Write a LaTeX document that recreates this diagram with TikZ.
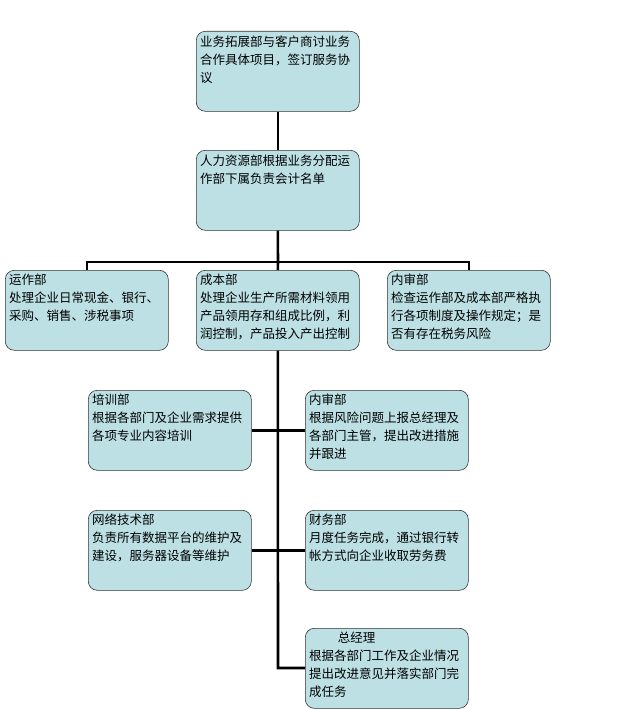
\documentclass[tikz,border=0pt]{standalone}
\usepackage{fontspec}
\setmainfont{Noto Sans CJK SC}
\begin{document}
\begin{tikzpicture}[x=1pt,y=-1pt,
  box/.style={draw=black!80,line width=0.6pt,fill={rgb,255:red,188;green,224;blue,228},rounded corners=9pt,minimum width=163pt,minimum height=80pt,anchor=north west,inner sep=0pt},
  txt/.style={anchor=north west,align=left,inner sep=0pt,font=\fontsize{12.5}{18}\selectfont},
  conn/.style={line width=2.6pt,black}]
\useasboundingbox (0,0) rectangle (623,709);
\node[box] (a) at (196,31) {};
\node[txt] at (200,36) {业务拓展部与客户商讨业务\\合作具体项目，签订服务协\\议};
\node[box] (b) at (196,150) {};
\node[txt] at (200,155) {人力资源部根据业务分配运\\作部下属负责会计名单};
\node[box] (c1) at (5,270) {};
\node[txt] at (9,274) {运作部\\处理企业日常现金、银行、\\采购、销售、涉税事项};
\node[box] (c2) at (196,270) {};
\node[txt] at (200,274) {成本部\\处理企业生产所需材料领用\\产品领用存和组成比例，利\\润控制，产品投入产出控制};
\node[box] (c3) at (387,270) {};
\node[txt] at (391,274) {内审部\\检查运作部及成本部严格执\\行各项制度及操作规定；是\\否有存在税务风险};
\node[box] (d1) at (88,390) {};
\node[txt] at (92,394) {培训部\\根据各部门及企业需求提供\\各项专业内容培训};
\node[box] (d2) at (305,390) {};
\node[txt] at (309,394) {内审部\\根据风险问题上报总经理及\\各部门主管，提出改进措施\\并跟进};
\node[box] (e1) at (88,510) {};
\node[txt] at (92,514) {网络技术部\\负责所有数据平台的维护及\\建设，服务器设备等维护};
\node[box] (e2) at (305,510) {};
\node[txt] at (309,514) {财务部\\月度任务完成，通过银行转\\帐方式向企业收取劳务费};
\node[box] (f) at (305,628) {};
\node[txt] at (309,632) {\hspace{2.3em}总经理\\根据各部门工作及企业情况\\提出改进意见并落实部门完\\成任务};
\coordinate (j1) at (278,262);
\coordinate (jb) at (278,668);
\draw[conn] (a.south) -- (b.north);
\draw[conn] (b.south) -- (j1);
\draw[conn] (c1.north) |- (j1) -| (c3.north);
\draw[conn] (j1) -- (c2.north);
\draw[conn] (c2.south) -- (jb) -- (f.west |- jb);
\draw[conn] (d1.east) -- (d2.west);
\draw[conn] (e1.east) -- (e2.west);
\end{tikzpicture}
\end{document}
